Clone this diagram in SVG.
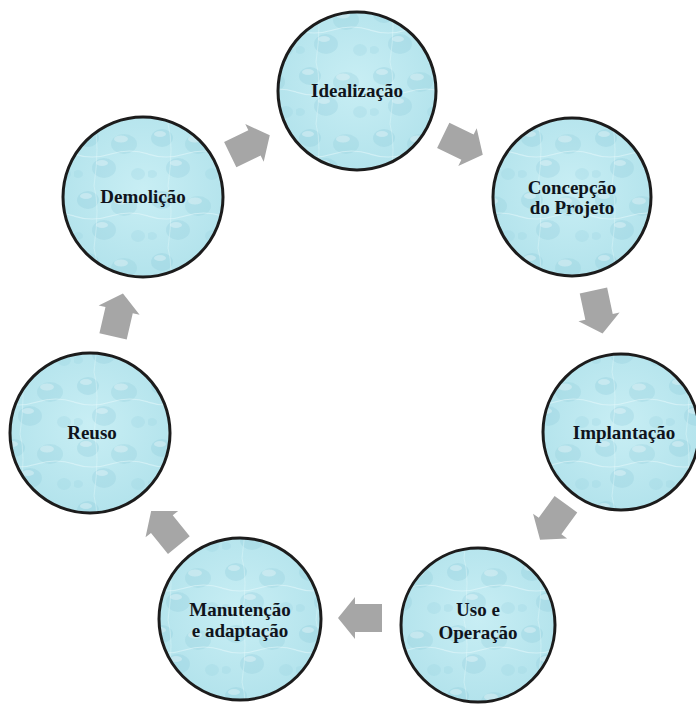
<svg xmlns="http://www.w3.org/2000/svg" width="696" height="704" viewBox="0 0 696 704">
  <defs>
    <radialGradient id="base" cx="50%" cy="45%" r="55%">
      <stop offset="0%" stop-color="#c8eef4"/>
      <stop offset="100%" stop-color="#b3e3ec"/>
    </radialGradient>
    <pattern id="drops" patternUnits="userSpaceOnUse" width="74" height="62">
      <ellipse cx="14" cy="14" rx="11" ry="9" fill="#92cfdd" opacity="0.35"/>
      <ellipse cx="12" cy="10" rx="6" ry="3" fill="#ffffff" opacity="0.3"/>
      <ellipse cx="50" cy="20" rx="13" ry="10" fill="#92cfdd" opacity="0.3"/>
      <ellipse cx="47" cy="15" rx="7" ry="3.5" fill="#ffffff" opacity="0.3"/>
      <ellipse cx="30" cy="44" rx="12" ry="10" fill="#92cfdd" opacity="0.32"/>
      <ellipse cx="28" cy="39" rx="6" ry="3" fill="#ffffff" opacity="0.3"/>
      <ellipse cx="64" cy="50" rx="7" ry="6" fill="#9bd5e2" opacity="0.3"/>
      <ellipse cx="4" cy="50" rx="5" ry="4" fill="#9bd5e2" opacity="0.3"/>
      <path d="M0 30 Q18 36 37 30 T74 30" fill="none" stroke="#eafafc" stroke-width="1.2" opacity="0.5"/>
      <path d="M20 0 Q26 20 20 62" fill="none" stroke="#eafafc" stroke-width="1" opacity="0.35"/>
    </pattern>
    <path id="arr" d="M -22,-14 L 5,-14 L 5,-21 L 22,0 L 5,21 L 5,14 L -22,14 Z"/>
  </defs>
  <style>
    .node-bg { fill: url(#base); }
    .node-tx { fill: url(#drops); }
    .node-ring { fill: none; stroke: #1c1c1c; stroke-width: 3; }
    .lbl { font-family: "Liberation Serif", "Times New Roman", serif; font-weight: bold; font-size: 19px; fill: #10141c; text-anchor: middle; }
    .arrow { fill: #a6a6a6; }
  </style>

  <g id="connectors">
    <use href="#arr" class="arrow" transform="translate(250,145) rotate(-26)"/>
    <use href="#arr" class="arrow" transform="translate(463,145) rotate(26)"/>
    <use href="#arr" class="arrow" transform="translate(598,312) rotate(78)"/>
    <use href="#arr" class="arrow" transform="translate(553,522) rotate(126)"/>
    <use href="#arr" class="arrow" transform="translate(360,618) rotate(180)"/>
    <use href="#arr" class="arrow" transform="translate(165,528) rotate(231)"/>
    <use href="#arr" class="arrow" transform="translate(118,315) rotate(-77)"/>
  </g>

  <g id="idealizacao">
    <circle cx="357" cy="91" r="79" class="node-bg"/>
    <circle cx="357" cy="91" r="79" class="node-tx"/>
    <circle cx="357" cy="91" r="79" class="node-ring"/>
    <text x="357" y="97" class="lbl">Idealização</text>
  </g>

  <g id="concepcao">
    <circle cx="572" cy="197" r="79" class="node-bg"/>
    <circle cx="572" cy="197" r="79" class="node-tx"/>
    <circle cx="572" cy="197" r="79" class="node-ring"/>
    <text x="572" y="194" class="lbl">Concepção</text>
    <text x="572" y="214" class="lbl">do Projeto</text>
  </g>

  <g id="implantacao">
    <circle cx="621" cy="432" r="78" class="node-bg"/>
    <circle cx="621" cy="432" r="78" class="node-tx"/>
    <circle cx="621" cy="432" r="78" class="node-ring"/>
    <text x="624" y="439" class="lbl">Implantação</text>
  </g>

  <g id="uso-operacao">
    <circle cx="478" cy="625" r="77" class="node-bg"/>
    <circle cx="478" cy="625" r="77" class="node-tx"/>
    <circle cx="478" cy="625" r="77" class="node-ring"/>
    <text x="478" y="616" class="lbl">Uso e</text>
    <text x="478" y="639" class="lbl">Operação</text>
  </g>

  <g id="manutencao">
    <circle cx="240" cy="619" r="81" class="node-bg"/>
    <circle cx="240" cy="619" r="81" class="node-tx"/>
    <circle cx="240" cy="619" r="81" class="node-ring"/>
    <text x="240" y="616" class="lbl">Manutenção</text>
    <text x="240" y="637" class="lbl">e adaptação</text>
  </g>

  <g id="reuso">
    <circle cx="90" cy="433" r="80" class="node-bg"/>
    <circle cx="90" cy="433" r="80" class="node-tx"/>
    <circle cx="90" cy="433" r="80" class="node-ring"/>
    <text x="92" y="439" class="lbl">Reuso</text>
  </g>

  <g id="demolicao">
    <circle cx="143" cy="197" r="80" class="node-bg"/>
    <circle cx="143" cy="197" r="80" class="node-tx"/>
    <circle cx="143" cy="197" r="80" class="node-ring"/>
    <text x="143" y="203" class="lbl">Demolição</text>
  </g>
</svg>
